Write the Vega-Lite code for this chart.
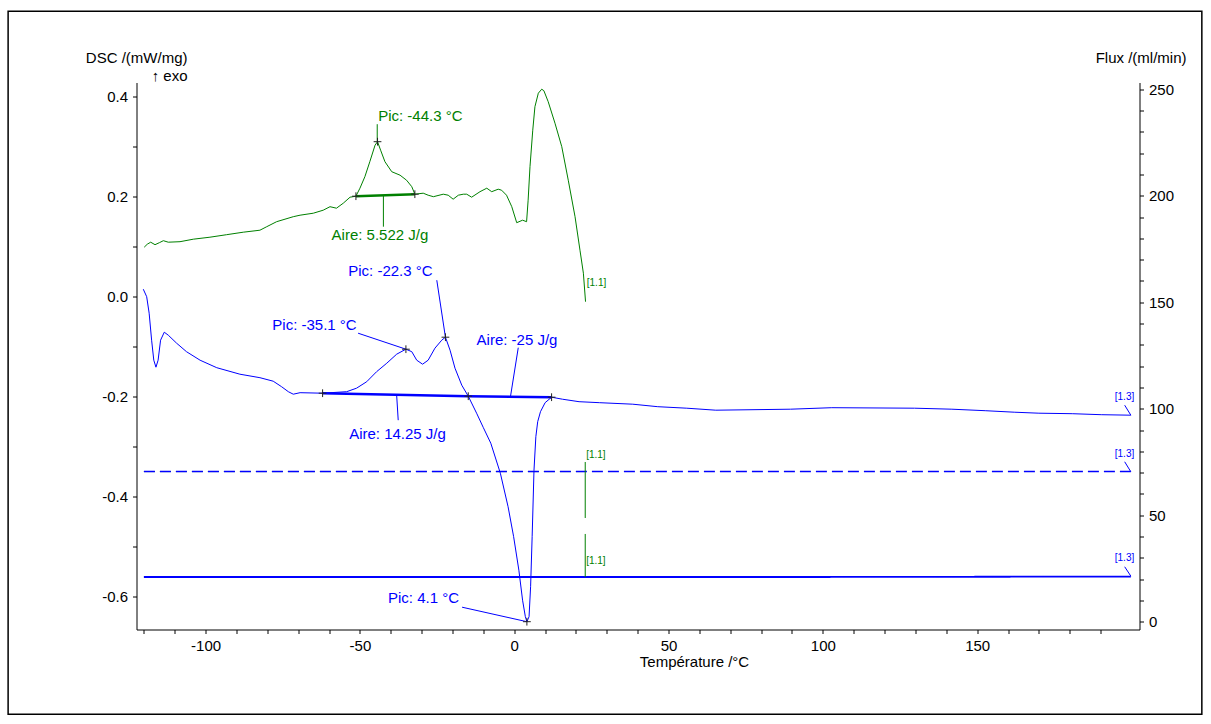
{
  "$schema": "https://vega.github.io/schema/vega-lite/v6.json",
  "width": 1003,
  "height": 547,
  "autosize": {"type": "none"},
  "padding": {"left": 136.5, "top": 82.5, "right": 71.5, "bottom": 94.5},
  "background": "white",
  "config": {
    "view": {"stroke": null},
    "font": "Liberation Sans",
    "axis": {
      "labelFont": "Liberation Sans", "labelFontSize": 15, "labelColor": "#000",
      "titleFont": "Liberation Sans", "titleFontSize": 15, "titleFontWeight": "normal", "titleColor": "#000",
      "domainColor": "#000", "domainWidth": 1, "tickColor": "#000", "tickSize": 4, "tickWidth": 1,
      "labelPadding": 5, "grid": false, "labelOverlap": false, "labelFlush": false, "labelBound": false
    },
    "text": {"font": "Liberation Sans", "fontSize": 15}
  },
  "datasets": {
    "dsc": [
      {"T": -119.9, "v": 0.099, "c": "g"}, {"T": -118.9, "v": 0.105, "c": "g"}, {"T": -117.8, "v": 0.109, "c": "g"},
      {"T": -116.4, "v": 0.104, "c": "g"}, {"T": -115.0, "v": 0.108, "c": "g"}, {"T": -113.7, "v": 0.112, "c": "g"},
      {"T": -112.1, "v": 0.109, "c": "g"}, {"T": -108.3, "v": 0.110, "c": "g"}, {"T": -104.0, "v": 0.115, "c": "g"},
      {"T": -98.6, "v": 0.119, "c": "g"}, {"T": -93.2, "v": 0.124, "c": "g"}, {"T": -87.8, "v": 0.129, "c": "g"},
      {"T": -82.4, "v": 0.133, "c": "g"}, {"T": -80.2, "v": 0.140, "c": "g"}, {"T": -77.0, "v": 0.150, "c": "g"},
      {"T": -71.6, "v": 0.160, "c": "g"}, {"T": -69.4, "v": 0.163, "c": "g"}, {"T": -65.1, "v": 0.167, "c": "g"},
      {"T": -61.9, "v": 0.173, "c": "g"}, {"T": -59.7, "v": 0.180, "c": "g"}, {"T": -57.6, "v": 0.177, "c": "g"},
      {"T": -55.4, "v": 0.187, "c": "g"}, {"T": -53.2, "v": 0.199, "c": "g"}, {"T": -51.3, "v": 0.201, "c": "g"},
      {"T": -50.0, "v": 0.217, "c": "g"}, {"T": -48.4, "v": 0.240, "c": "g"}, {"T": -46.8, "v": 0.270, "c": "g"},
      {"T": -45.1, "v": 0.303, "c": "g"}, {"T": -44.3, "v": 0.310, "c": "g"}, {"T": -43.3, "v": 0.293, "c": "g"},
      {"T": -41.9, "v": 0.270, "c": "g"}, {"T": -39.7, "v": 0.250, "c": "g"}, {"T": -37.0, "v": 0.243, "c": "g"},
      {"T": -34.9, "v": 0.233, "c": "g"}, {"T": -33.2, "v": 0.220, "c": "g"}, {"T": -32.2, "v": 0.205, "c": "g"},
      {"T": -29.5, "v": 0.207, "c": "g"}, {"T": -27.9, "v": 0.203, "c": "g"}, {"T": -26.2, "v": 0.200, "c": "g"},
      {"T": -23.0, "v": 0.205, "c": "g"}, {"T": -21.4, "v": 0.203, "c": "g"}, {"T": -19.8, "v": 0.195, "c": "g"},
      {"T": -18.1, "v": 0.203, "c": "g"}, {"T": -16.5, "v": 0.205, "c": "g"}, {"T": -15.4, "v": 0.205, "c": "g"},
      {"T": -13.8, "v": 0.199, "c": "g"}, {"T": -11.1, "v": 0.210, "c": "g"}, {"T": -8.9, "v": 0.217, "c": "g"},
      {"T": -7.3, "v": 0.210, "c": "g"}, {"T": -5.2, "v": 0.215, "c": "g"}, {"T": -4.1, "v": 0.213, "c": "g"},
      {"T": -2.5, "v": 0.203, "c": "g"}, {"T": -0.8, "v": 0.180, "c": "g"}, {"T": 0.8, "v": 0.148, "c": "g"},
      {"T": 2.7, "v": 0.153, "c": "g"}, {"T": 4.0, "v": 0.150, "c": "g"}, {"T": 4.5, "v": 0.193, "c": "g"},
      {"T": 5.1, "v": 0.260, "c": "g"}, {"T": 6.0, "v": 0.333, "c": "g"}, {"T": 6.7, "v": 0.380, "c": "g"},
      {"T": 7.8, "v": 0.407, "c": "g"}, {"T": 8.9, "v": 0.415, "c": "g"}, {"T": 9.6, "v": 0.412, "c": "g"},
      {"T": 11.0, "v": 0.390, "c": "g"}, {"T": 13.2, "v": 0.347, "c": "g"}, {"T": 15.4, "v": 0.300, "c": "g"},
      {"T": 17.5, "v": 0.233, "c": "g"}, {"T": 19.7, "v": 0.160, "c": "g"}, {"T": 21.3, "v": 0.093, "c": "g"},
      {"T": 22.4, "v": 0.047, "c": "g"}, {"T": 23.1, "v": -0.010, "c": "g"},

      {"T": -120.2, "v": 0.015, "c": "b"}, {"T": -119.1, "v": 0.000, "c": "b"}, {"T": -118.3, "v": -0.033, "c": "b"},
      {"T": -117.5, "v": -0.087, "c": "b"}, {"T": -116.8, "v": -0.127, "c": "b"}, {"T": -116.1, "v": -0.141, "c": "b"},
      {"T": -115.4, "v": -0.127, "c": "b"}, {"T": -114.6, "v": -0.087, "c": "b"}, {"T": -113.4, "v": -0.071, "c": "b"},
      {"T": -112.1, "v": -0.077, "c": "b"}, {"T": -109.4, "v": -0.093, "c": "b"}, {"T": -106.2, "v": -0.110, "c": "b"},
      {"T": -101.8, "v": -0.127, "c": "b"}, {"T": -96.4, "v": -0.142, "c": "b"}, {"T": -88.9, "v": -0.155, "c": "b"},
      {"T": -82.4, "v": -0.162, "c": "b"}, {"T": -78.1, "v": -0.169, "c": "b"}, {"T": -75.4, "v": -0.180, "c": "b"},
      {"T": -73.2, "v": -0.190, "c": "b"}, {"T": -71.6, "v": -0.195, "c": "b"}, {"T": -69.4, "v": -0.192, "c": "b"},
      {"T": -62.1, "v": -0.193, "c": "b"}, {"T": -54.3, "v": -0.190, "c": "b"}, {"T": -51.1, "v": -0.183, "c": "b"},
      {"T": -47.8, "v": -0.170, "c": "b"}, {"T": -44.6, "v": -0.150, "c": "b"}, {"T": -41.3, "v": -0.133, "c": "b"},
      {"T": -38.1, "v": -0.115, "c": "b"}, {"T": -35.1, "v": -0.105, "c": "b"}, {"T": -33.2, "v": -0.110, "c": "b"},
      {"T": -31.6, "v": -0.127, "c": "b"}, {"T": -29.7, "v": -0.135, "c": "b"}, {"T": -27.9, "v": -0.127, "c": "b"},
      {"T": -25.7, "v": -0.103, "c": "b"}, {"T": -23.5, "v": -0.087, "c": "b"}, {"T": -22.3, "v": -0.081, "c": "b"},
      {"T": -20.8, "v": -0.107, "c": "b"}, {"T": -19.2, "v": -0.143, "c": "b"}, {"T": -17.0, "v": -0.177, "c": "b"},
      {"T": -14.9, "v": -0.199, "c": "b"}, {"T": -12.2, "v": -0.233, "c": "b"}, {"T": -10.0, "v": -0.262, "c": "b"},
      {"T": -7.6, "v": -0.293, "c": "b"}, {"T": -4.5, "v": -0.353, "c": "b"}, {"T": -2.0, "v": -0.420, "c": "b"},
      {"T": -0.2, "v": -0.480, "c": "b"}, {"T": 1.5, "v": -0.547, "c": "b"}, {"T": 2.7, "v": -0.607, "c": "b"},
      {"T": 3.6, "v": -0.640, "c": "b"}, {"T": 4.1, "v": -0.650, "c": "b"}, {"T": 4.8, "v": -0.640, "c": "b"},
      {"T": 5.3, "v": -0.580, "c": "b"}, {"T": 5.8, "v": -0.480, "c": "b"}, {"T": 6.4, "v": -0.347, "c": "b"},
      {"T": 7.0, "v": -0.280, "c": "b"}, {"T": 7.6, "v": -0.250, "c": "b"}, {"T": 8.5, "v": -0.230, "c": "b"},
      {"T": 10.0, "v": -0.212, "c": "b"}, {"T": 12.1, "v": -0.201, "c": "b"}, {"T": 15.6, "v": -0.205, "c": "b"},
      {"T": 21.0, "v": -0.210, "c": "b"}, {"T": 27.7, "v": -0.212, "c": "b"}, {"T": 38.4, "v": -0.215, "c": "b"},
      {"T": 46.5, "v": -0.220, "c": "b"}, {"T": 55.9, "v": -0.223, "c": "b"}, {"T": 65.3, "v": -0.227, "c": "b"},
      {"T": 89.5, "v": -0.225, "c": "b"}, {"T": 102.9, "v": -0.222, "c": "b"}, {"T": 129.7, "v": -0.223, "c": "b"},
      {"T": 141.8, "v": -0.225, "c": "b"}, {"T": 152.6, "v": -0.228, "c": "b"}, {"T": 162.0, "v": -0.231, "c": "b"},
      {"T": 170.0, "v": -0.233, "c": "b"}, {"T": 180.8, "v": -0.234, "c": "b"}, {"T": 190.2, "v": -0.236, "c": "b"},
      {"T": 199.8, "v": -0.237, "c": "b"}
    ],
    "flux": [
      {"T": -120, "f": 70.5, "c": "g", "k": "d", "w": "n", "id": "g70"}, {"T": -50, "f": 70.5, "c": "g", "k": "d", "w": "n", "id": "g70"}, {"T": 22.9, "f": 70.5, "c": "g", "k": "d", "w": "n", "id": "g70"},
      {"T": -120, "f": 21.0, "c": "g", "k": "s", "w": "n", "id": "g21"}, {"T": -50, "f": 21.0, "c": "g", "k": "s", "w": "n", "id": "g21"}, {"T": 22.9, "f": 21.0, "c": "g", "k": "s", "w": "n", "id": "g21"},
      {"T": -120, "f": 70.5, "c": "b", "k": "d", "w": "t", "id": "b70"}, {"T": 0, "f": 70.5, "c": "b", "k": "d", "w": "t", "id": "b70"}, {"T": 100, "f": 70.5, "c": "b", "k": "d", "w": "t", "id": "b70"}, {"T": 199.8, "f": 70.5, "c": "b", "k": "d", "w": "t", "id": "b70"},
      {"T": -120, "f": 21.0, "c": "b", "k": "s", "w": "m", "id": "b21"}, {"T": 0, "f": 21.0, "c": "b", "k": "s", "w": "m", "id": "b21"}, {"T": 100, "f": 21.0, "c": "b", "k": "s", "w": "m", "id": "b21"}, {"T": 199.8, "f": 21.2, "c": "b", "k": "s", "w": "m", "id": "b21"}
    ]
  },
  "encoding": {
    "x": {
      "field": "T", "type": "quantitative",
      "scale": {"domain": [-122.4, 202.6], "nice": false, "zero": false},
      "axis": {
        "orient": "bottom",
        "values": [-120, -110, -100, -90, -80, -70, -60, -50, -40, -30, -20, -10, 0, 10, 20, 30, 40, 50, 60, 70, 80, 90, 100, 110, 120, 130, 140, 150, 160, 170, 180, 190],
        "labelExpr": "datum.value % 50 == 0 ? '' + datum.value : ''",
        "title": "Température /°C",
        "titleAlign": "left", "titleX": 502.8, "titleY": 36.5, "titleBaseline": "alphabetic"
      }
    }
  },
  "layer": [
    {
      "encoding": {
        "y": {
          "field": "v", "type": "quantitative",
          "scale": {"domain": [-0.6656, 0.4284], "nice": false, "zero": false},
          "axis": {
            "orient": "left",
            "values": [-0.6, -0.5, -0.4, -0.3, -0.2, -0.1, 0, 0.1, 0.2, 0.3, 0.4],
            "labelExpr": "abs(round(datum.value * 10)) % 2 == 0 ? (datum.value < -0.001 ? '-' : '') + format(abs(datum.value), '.1f') : ''",
            "title": ["DSC /(mW/mg)", "↑ exo\u00a0"],
            "titleAngle": 0, "titleAlign": "right", "titleX": 50.5, "titleY": -20,
            "titleBaseline": "alphabetic", "titleLineHeight": 18
          }
        }
      },
      "layer": [
        {
          "data": {"values": [{"T": -164.0, "T2": 222.8, "v": 0.571, "v2": -0.835}]},
          "mark": {"type": "rect", "fill": "transparent", "stroke": "#000", "strokeWidth": 1.5},
          "encoding": {"x2": {"field": "T2"}, "y2": {"field": "v2"}}
        },
        {
          "data": {"name": "dsc"},
          "mark": {"type": "line", "strokeWidth": 1},
          "encoding": {
            "color": {"field": "c", "type": "nominal", "scale": {"domain": ["g", "b"], "range": ["#008000", "#0000ff"]}, "legend": null}
          }
        },
        {
          "data": {"values": [
            {"T": -51.3, "T2": -32.2, "v": 0.201, "v2": 0.205, "c": "g"},
            {"T": -62.1, "T2": -14.9, "v": -0.193, "v2": -0.199, "c": "b"},
            {"T": -14.9, "T2": 12.1, "v": -0.199, "v2": -0.201, "c": "b"}
          ]},
          "mark": {"type": "rule", "strokeWidth": 2.5},
          "encoding": {
            "x2": {"field": "T2"}, "y2": {"field": "v2"},
            "color": {"field": "c", "type": "nominal", "scale": {"domain": ["g", "b"], "range": ["#008000", "#0000ff"]}, "legend": null}
          }
        },
        {
          "data": {"values": [
            {"T": -44.4, "T2": -44.4, "v": 0.310, "v2": 0.345, "c": "g"},
            {"T": -42.4, "T2": -42.4, "v": 0.203, "v2": 0.140, "c": "g"},
            {"T": -25.1, "T2": -22.3, "v": 0.033, "v2": -0.081, "c": "b"},
            {"T": -50.6, "T2": -35.1, "v": -0.073, "v2": -0.105, "c": "b"},
            {"T": 1.3, "T2": -1.2, "v": -0.102, "v2": -0.199, "c": "b"},
            {"T": -38.1, "T2": -37.6, "v": -0.197, "v2": -0.247, "c": "b"},
            {"T": -16.9, "T2": 4.1, "v": -0.621, "v2": -0.650, "c": "b"},
            {"T": 197.8, "T2": 199.8, "v": -0.217, "v2": -0.237, "c": "b"}
          ]},
          "mark": {"type": "rule", "strokeWidth": 1},
          "encoding": {
            "x2": {"field": "T2"}, "y2": {"field": "v2"},
            "color": {"field": "c", "type": "nominal", "scale": {"domain": ["g", "b"], "range": ["#008000", "#0000ff"]}, "legend": null}
          }
        },
        {
          "data": {"values": [
            {"T": -44.3, "v": 0.310}, {"T": -51.3, "v": 0.201}, {"T": -32.2, "v": 0.205},
            {"T": -62.1, "v": -0.193}, {"T": -14.9, "v": -0.199}, {"T": 12.1, "v": -0.201},
            {"T": -35.1, "v": -0.105}, {"T": -22.3, "v": -0.081}, {"T": 4.1, "v": -0.650}
          ]},
          "mark": {"type": "point", "shape": "M-1,0L1,0M0,-1L0,1", "size": 60, "stroke": "#222", "strokeWidth": 1, "filled": false, "opacity": 1}
        },
        {
          "data": {"values": [
            {"T": -44.1, "v": 0.361, "label": "Pic: -44.3 °C", "c": "g"},
            {"T": -59.2, "v": 0.123, "label": "Aire: 5.522 J/g", "c": "g"},
            {"T": -53.8, "v": 0.052, "label": "Pic: -22.3 °C", "c": "b"},
            {"T": -78.4, "v": -0.057, "label": "Pic: -35.1 °C", "c": "b"},
            {"T": -12.2, "v": -0.087, "label": "Aire: -25 J/g", "c": "b"},
            {"T": -53.5, "v": -0.275, "label": "Aire: 14.25 J/g", "c": "b"},
            {"T": -40.9, "v": -0.603, "label": "Pic: 4.1 °C", "c": "b"}
          ]},
          "mark": {"type": "text", "align": "left", "baseline": "middle", "fontSize": 15},
          "encoding": {
            "text": {"field": "label"},
            "color": {"field": "c", "type": "nominal", "scale": {"domain": ["g", "b"], "range": ["#008000", "#0000ff"]}, "legend": null}
          }
        },
        {
          "data": {"values": [{"T": 23.5, "v": 0.028, "label": "[1.1]", "c": "g"}]},
          "mark": {"type": "text", "align": "left", "baseline": "middle", "fontSize": 10},
          "encoding": {
            "text": {"field": "label"},
            "color": {"field": "c", "type": "nominal", "scale": {"domain": ["g", "b"], "range": ["#008000", "#0000ff"]}, "legend": null}
          }
        },
        {
          "data": {"values": [{"T": 200.9, "v": -0.200, "label": "[1.3]", "c": "b"}]},
          "mark": {"type": "text", "align": "right", "baseline": "middle", "fontSize": 10},
          "encoding": {
            "text": {"field": "label"},
            "color": {"field": "c", "type": "nominal", "scale": {"domain": ["g", "b"], "range": ["#008000", "#0000ff"]}, "legend": null}
          }
        }
      ]
    },
    {
      "encoding": {
        "y": {
          "field": "f", "type": "quantitative",
          "scale": {"domain": [-3.66, 253.2], "nice": false, "zero": false},
          "axis": {
            "orient": "right",
            "values": [0, 10, 20, 30, 40, 50, 60, 70, 80, 90, 100, 110, 120, 130, 140, 150, 160, 170, 180, 190, 200, 210, 220, 230, 240, 250],
            "labelExpr": "datum.value % 50 == 0 ? '' + datum.value : ''",
            "title": "Flux /(ml/min)",
            "titleAngle": 0, "titleAlign": "right", "titleX": 46.5, "titleY": -20, "titleBaseline": "alphabetic"
          }
        }
      },
      "layer": [
        {
          "data": {"name": "flux"},
          "mark": {"type": "line"},
          "encoding": {
            "detail": {"field": "id"},
            "color": {"field": "c", "type": "nominal", "scale": {"domain": ["g", "b"], "range": ["#008000", "#0000ff"]}, "legend": null},
            "strokeDash": {"field": "k", "type": "nominal", "scale": {"domain": ["d", "s"], "range": [[11, 5], [1, 0]]}, "legend": null},
            "strokeWidth": {"field": "w", "type": "nominal", "scale": {"domain": ["n", "t", "m"], "range": [1.0, 1.8, 1.2]}, "legend": null}
          }
        },
        {
          "data": {"values": [
            {"T": 23.0, "T2": 23.0, "f": 75.0, "f2": 48.7, "c": "g"},
            {"T": 23.0, "T2": 23.0, "f": 41.2, "f2": 21.0, "c": "g"},
            {"T": 197.8, "T2": 199.8, "f": 75.1, "f2": 70.4, "c": "b"},
            {"T": 197.8, "T2": 199.8, "f": 25.8, "f2": 21.4, "c": "b"}
          ]},
          "mark": {"type": "rule", "strokeWidth": 1},
          "encoding": {
            "x2": {"field": "T2"}, "y2": {"field": "f2"},
            "color": {"field": "c", "type": "nominal", "scale": {"domain": ["g", "b"], "range": ["#008000", "#0000ff"]}, "legend": null}
          }
        },
        {
          "data": {"values": [
            {"T": 23.3, "f": 78.2, "label": "[1.1]", "c": "g"},
            {"T": 23.3, "f": 28.5, "label": "[1.1]", "c": "g"}
          ]},
          "mark": {"type": "text", "align": "left", "baseline": "middle", "fontSize": 10},
          "encoding": {
            "text": {"field": "label"},
            "color": {"field": "c", "type": "nominal", "scale": {"domain": ["g", "b"], "range": ["#008000", "#0000ff"]}, "legend": null}
          }
        },
        {
          "data": {"values": [
            {"T": 200.9, "f": 78.7, "label": "[1.3]", "c": "b"},
            {"T": 200.9, "f": 29.8, "label": "[1.3]", "c": "b"}
          ]},
          "mark": {"type": "text", "align": "right", "baseline": "middle", "fontSize": 10},
          "encoding": {
            "text": {"field": "label"},
            "color": {"field": "c", "type": "nominal", "scale": {"domain": ["g", "b"], "range": ["#008000", "#0000ff"]}, "legend": null}
          }
        }
      ]
    }
  ],
  "resolve": {"scale": {"y": "independent"}}
}
